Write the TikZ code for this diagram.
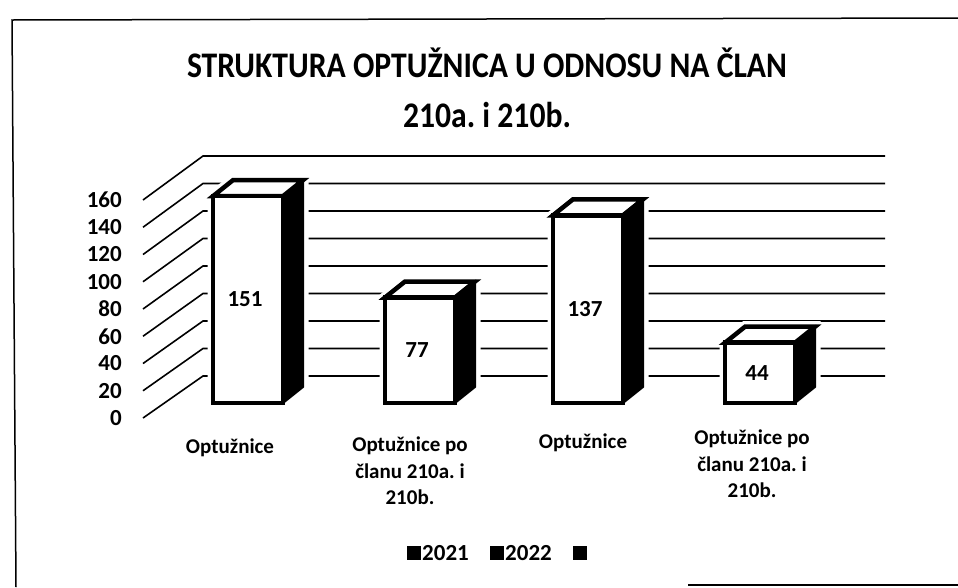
\documentclass[tikz,border=0pt]{standalone}
\usepackage{fontspec}
\setmainfont{Carlito}
\frenchspacing
\tikzset{
  frame line/.style={line width=1.5pt},
  grid line/.style={line width=1.6pt},
  bar edge/.style={line width=4.5pt, line join=miter, fill=white},
  bar halo/.style={white, fill=white, line width=11pt, line join=miter},
  title/.style={font=\bfseries\fontsize{36}{40}\selectfont, anchor=base, inner sep=0pt},
  lbl/.style={font=\bfseries\fontsize{23}{27}\selectfont, inner sep=1pt},
  cat/.style={font=\bfseries\fontsize{21}{26.5}\selectfont, align=center, anchor=north, inner sep=1pt},
  key/.style={fill=black, minimum size=14pt, inner sep=0pt}
}
\begin{document}
\begin{tikzpicture}[x=1pt,y=-1pt]
  \useasboundingbox (0,0) rectangle (958,587);
  \draw[frame line] (16,587) -- (12,20) -- (958,18);
  \draw[frame line] (688,585) -- (958,585);
  \node[title] (t1) at (487,77) {\scalebox{0.88}[1]{STRUKTURA OPTUŽNICA U ODNOSU NA ČLAN}};
  \node[title] (t2) at (487,127) {\scalebox{0.88}[1]{210a. i 210b.}};
  \foreach \v [count=\i] in {0,20,...,160} {
    \draw[grid line] (143,{418-1.3625*\v}) -- (203,{376-1.375*\v}) -- (885,{376-1.375*\v});
    \node[lbl, anchor=east] (y\i) at (123,{418-1.3625*\v}) {\v};
  }
  \foreach \x/\v/\n in {213/151/a, 385/77/b, 553/137/c, 725/44/d} {
    \pgfmathsetmacro\yt{403-1.37*\v}
    \draw[bar halo] (\x,403) -- (\x,\yt) -- (\x+20,\yt-16) -- (\x+90,\yt-16)
      -- (\x+90,387) -- (\x+70,403) -- cycle;
    \filldraw[line width=2pt, line join=miter] (\x+70,\yt) -- (\x+90,\yt-16)
      -- (\x+90,387) -- (\x+70,403) -- cycle;
    \draw[bar edge] (\x,\yt) -- (\x+20,\yt-16) -- (\x+90,\yt-16) -- (\x+70,\yt) -- cycle;
    \draw[bar edge] (\x,403) rectangle (\x+70,\yt);
    \node[lbl] (v\n) at (\x+32,{(403+\yt)/2}) {\v};
  }
  \node[cat] (c1) at (230,438) {Optužnice};
  \node[cat] (c2) at (410,436) {Optužnice po\\članu 210a. i\\210b.};
  \node[cat] (c3) at (583,433) {Optužnice};
  \node[cat] (c4) at (752,429) {Optužnice po\\članu 210a. i\\210b.};
  \node[key] (k1) at (414,553) {};
  \node[lbl, anchor=west] (l1) at (421,553) {2021};
  \node[key] (k2) at (497,553) {};
  \node[lbl, anchor=west] (l2) at (504,553) {2022};
  \node[key] (k3) at (580,553) {};
\end{tikzpicture}
\end{document}
